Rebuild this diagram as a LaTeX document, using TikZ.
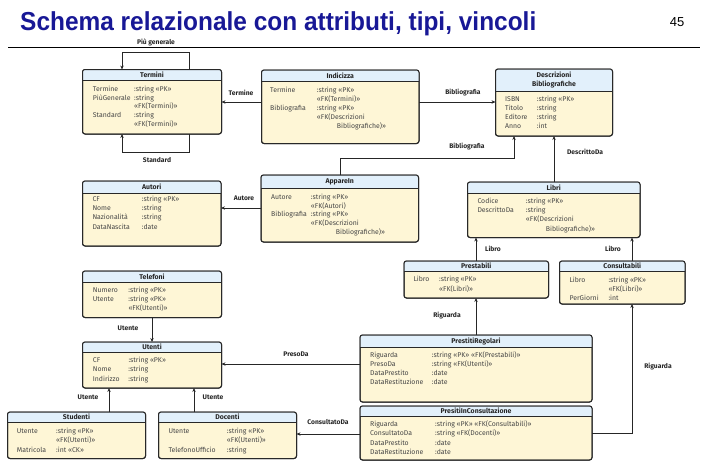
\documentclass[tikz,border=0pt]{standalone}
\usepackage{fontspec}
\usepackage{graphicx}
\setmainfont{Fira Sans}
\newfontfamily\titlefont{Liberation Sans}
\usetikzlibrary{arrows.meta,fit}

\definecolor{hdrblue}{RGB}{226,240,251}
\definecolor{bodyyel}{RGB}{254,246,214}
\definecolor{edgecol}{RGB}{40,40,40}
\definecolor{txtcol}{RGB}{70,70,70}
\definecolor{titleblue}{RGB}{24,24,150}

\tikzset{
  entbox/.style={fill=bodyyel, draw=edgecol, line width=1pt, rounded corners=2.5pt, inner sep=0pt, outer sep=0pt},
  entline/.style={draw=edgecol, line width=1pt},
  enttitle/.style={font=\fontsize{6.9}{8.6}\selectfont\bfseries, text=black!85, align=center, inner sep=0pt},
  attrs/.style={font=\fontsize{6.9}{#1}\selectfont, text=txtcol, inner sep=0pt, anchor=base west},
  conn/.style={draw=black!85, line width=0.8pt, -{Stealth[length=4pt,width=3.4pt]}},
  lbl/.style={font=\fontsize{6.7}{8}\selectfont\bfseries, text=black!85, inner sep=0pt},
}

% entity box: name, left, top, right, bottom, header bottom, title
\newcommand\umlentity[7]{%
  \node[entbox, fit={(#2,#3) (#4,#5)}] (#1) {};
  \begin{scope}
    \clip[rounded corners=2.5pt] (#2,#3) rectangle (#4,#5);
    \fill[hdrblue] (#2,#3) rectangle (#4,#6);
  \end{scope}
  \draw[entline] (#2,#6) -- (#4,#6);
  \draw[entline, rounded corners=2.5pt] (#2,#3) rectangle (#4,#5);
  \node[enttitle] (#1-title) at ({(#2+#4)/2},{(#3+#6)/2}) {#7};
}
\newcommand\pk{«PK»}

\begin{document}
\begin{tikzpicture}[x=1pt, y=-1pt]
\useasboundingbox (0,0) rectangle (712,463);

% heading
\node[anchor=base west, inner sep=0pt, text=titleblue, font=\titlefont\bfseries\fontsize{26}{30}\selectfont] (heading) at (20,30) {\scalebox{0.94}[1]{Schema relazionale con attributi, tipi, vincoli}};
\node[anchor=base, inner sep=0pt, font=\titlefont\fontsize{13}{15}\selectfont] (pagenum) at (677,27) {45};
\draw[line width=0.8pt] (8,47) -- (700,47);

% entities
\umlentity{termini}{82.5}{69.5}{221.5}{134}{80.5}{Termini}
\node[attrs=8.8] (termini-a) at (92.7,91.3) {\begin{tabular}[t]{@{}p{41.3pt}@{}l@{}}
Termine & :string \pk\\
PiùGenerale & :string\\
 & «FK(Termini)»\\
Standard & :string\\
 & «FK(Termini)»
\end{tabular}};

\umlentity{indicizza}{261.5}{70}{419}{143.5}{81.5}{Indicizza}
\node[attrs=9.1] (indicizza-a) at (270,92.3) {\begin{tabular}[t]{@{}p{46.7pt}@{}l@{}}
Termine & :string \pk\\
 & «FK(Termini)»\\
Bibliografia & :string \pk\\
 & «FK(Descrizioni\\
 & \hspace{20pt}Bibliografiche)»
\end{tabular}};

\umlentity{descr}{495.5}{69}{612.5}{136}{91.5}{Descrizioni\\Bibliografiche}
\node[attrs=9] (descr-a) at (505,101.3) {\begin{tabular}[t]{@{}p{31.7pt}@{}l@{}}
ISBN & :string \pk\\
Titolo & :string\\
Editore & :string\\
Anno & :int
\end{tabular}};

\umlentity{autori}{82.5}{181}{221}{246}{193}{Autori}
\node[attrs=9.2] (autori-a) at (92.3,201.5) {\begin{tabular}[t]{@{}p{49.4pt}@{}l@{}}
CF & :string \pk\\
Nome & :string\\
Nazionalità & :string\\
DataNascita & :date
\end{tabular}};

\umlentity{appare}{261}{175}{418.5}{242}{188}{AppareIn}
\node[attrs=8.6] (appare-a) at (271,199.6) {\begin{tabular}[t]{@{}p{39.7pt}@{}l@{}}
Autore & :string \pk\\
 & «FK(Autori)\\
Bibliografia & :string \pk\\
 & «FK(Descrizioni\\
 & \hspace{25pt}Bibliografiche)»
\end{tabular}};

\umlentity{libri}{467.5}{182}{640}{237.5}{193}{Libri}
\node[attrs=9.4] (libri-a) at (477.3,203) {\begin{tabular}[t]{@{}p{48.4pt}@{}l@{}}
Codice & :string \pk\\
DescrittoDa & :string\\
 & «FK(Descrizioni\\
 & \hspace{20pt}Bibliografiche)»
\end{tabular}};

\umlentity{prestabili}{404}{261}{548.5}{298}{271}{Prestabili}
\node[attrs=10] (prestabili-a) at (413.3,281.6) {\begin{tabular}[t]{@{}p{25.7pt}@{}l@{}}
Libro & :string \pk\\
 & «FK(Libri)»
\end{tabular}};

\umlentity{consultabili}{559.5}{261}{685}{304}{271}{Consultabili}
\node[attrs=9.2] (consultabili-a) at (569.3,282.3) {\begin{tabular}[t]{@{}p{39pt}@{}l@{}}
Libro & :string \pk\\
 & «FK(Libri)»\\
PerGiorni & :int
\end{tabular}};

\umlentity{telefoni}{82.5}{271}{221.5}{317.5}{282.5}{Telefoni}
\node[attrs=9.2] (telefoni-a) at (92.7,292.3) {\begin{tabular}[t]{@{}p{35.6pt}@{}l@{}}
Numero & :string \pk\\
Utente & :string \pk\\
 & «FK(Utenti)»
\end{tabular}};

\umlentity{utenti}{82.5}{342}{221.5}{388}{352.5}{Utenti}
\node[attrs=9.6] (utenti-a) at (92.7,362.3) {\begin{tabular}[t]{@{}p{35.6pt}@{}l@{}}
CF & :string \pk\\
Nome & :string\\
Indirizzo & :string
\end{tabular}};

\umlentity{studenti}{7.5}{412}{145.5}{458.5}{422}{Studenti}
\node[attrs=9.5] (studenti-a) at (16.7,433.3) {\begin{tabular}[t]{@{}p{39.3pt}@{}l@{}}
Utente & :string \pk\\
 & «FK(Utenti)»\\
Matricola & :int «CK»
\end{tabular}};

\umlentity{docenti}{158.5}{412}{296.5}{458.5}{422}{Docenti}
\node[attrs=9.5] (docenti-a) at (168.3,433.3) {\begin{tabular}[t]{@{}p{58.4pt}@{}l@{}}
Utente & :string \pk\\
 & «FK(Utenti)»\\
TelefonoUfficio & :string
\end{tabular}};

\umlentity{regolari}{360}{335}{592}{402}{347.5}{PrestitiRegolari}
\node[attrs=9.1] (regolari-a) at (370,357.3) {\begin{tabular}[t]{@{}p{61.7pt}@{}l@{}}
Riguarda & :string \pk\ «FK(Prestabili)»\\
PresoDa & :string «FK(Utenti)»\\
DataPrestito & :date\\
DataRestituzione & :date
\end{tabular}};

\umlentity{consult}{360}{406}{592}{460}{416}{PresitiInConsultazione}
\node[attrs=9.3] (consult-a) at (370,426.6) {\begin{tabular}[t]{@{}p{65pt}@{}l@{}}
Riguarda & :string \pk\ «FK(Consultabili)»\\
ConsultatoDa & :string «FK(Docenti)»\\
DataPrestito & :date\\
DataRestituzione & :date
\end{tabular}};

% foreign-key references
\draw[conn] (termini.north -| 189,0) |- (122,52) -- (termini.north -| 122,0);
\draw[conn] (termini.south -| 189,0) |- (122,152) -- (termini.south -| 122,0);
\draw[conn] (indicizza.west |- 0,102) -- (termini.east |- 0,102);
\draw[conn] (indicizza.east |- 0,102) -- (descr.west |- 0,102);
\draw[conn] (appare.north -| 340,0) |- (514,158) -- (descr.south -| 514,0);
\draw[conn] (libri.north -| 554,0) -- (descr.south -| 554,0);
\draw[conn] (appare.west |- 0,208) -- (autori.east |- 0,208);
\draw[conn] (prestabili.north -| 476,0) -- (libri.south -| 476,0);
\draw[conn] (consultabili.north -| 632,0) -- (libri.south -| 632,0);
\draw[conn] (regolari.north -| 476,0) -- (prestabili.south -| 476,0);
\draw[conn] (consult.east |- 0,433) -| (consultabili.south -| 632,0);
\draw[conn] (telefoni.south -| 152,0) -- (utenti.north -| 152,0);
\draw[conn] (regolari.west |- 0,364) -- (utenti.east |- 0,364);
\draw[conn] (studenti.north -| 109,0) -- (utenti.south -| 109,0);
\draw[conn] (docenti.north -| 194,0) -- (utenti.south -| 194,0);
\draw[conn] (consult.west |- 0,434) -- (docenti.east |- 0,434);

% reference labels
\node[lbl] (l-piugen) at (156,42) {Più generale};
\node[lbl] (l-standard) at (157,160) {Standard};
\node[lbl] (l-termine) at (241,93) {Termine};
\node[lbl] (l-biblio1) at (463,93) {Bibliografia};
\node[lbl] (l-biblio2) at (467,147) {Bibliografia};
\node[lbl] (l-descritto) at (585,152) {DescrittoDa};
\node[lbl] (l-autore) at (244,198) {Autore};
\node[lbl] (l-libro1) at (493,249) {Libro};
\node[lbl] (l-libro2) at (613,249) {Libro};
\node[lbl] (l-rig1) at (447,316) {Riguarda};
\node[lbl] (l-rig2) at (658,367) {Riguarda};
\node[lbl] (l-utente1) at (128,328) {Utente};
\node[lbl] (l-presoda) at (296,354) {PresoDa};
\node[lbl] (l-utente2) at (88,397) {Utente};
\node[lbl] (l-utente3) at (213,397) {Utente};
\node[lbl] (l-consda) at (328,422) {ConsultatoDa};
\end{tikzpicture}
\end{document}
